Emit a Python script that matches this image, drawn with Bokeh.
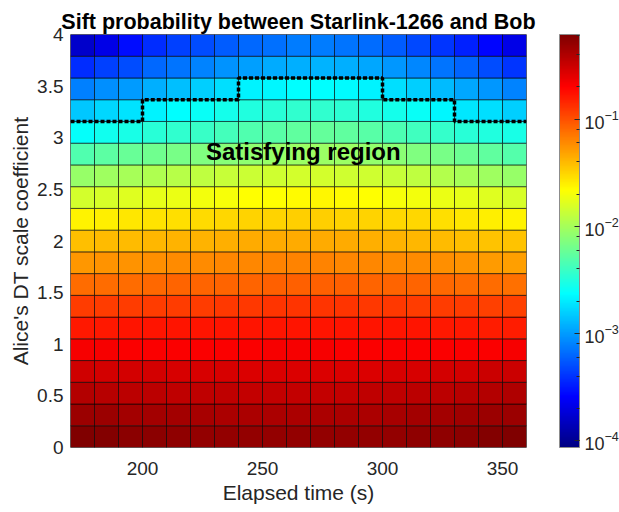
import numpy as np
from bokeh.plotting import figure
from bokeh.models import (ColumnDataSource, LogColorMapper, ColorBar, LogTicker,
                          LogTickFormatter, Label, NumeralTickFormatter, FixedTicker)
from bokeh.embed import file_html
from bokeh.resources import INLINE

# ---------------- data ----------------
# grid edges (pcolor vertices)
elapsed_edges = [170, 180, 190, 200, 210, 220, 230, 240, 250, 260,
                 270, 280, 290, 300, 310, 320, 330, 340, 350, 360]
coef_edges = list(np.linspace(0.0, 4.0, 20))

# log10 of sift probability, one list per row of cells, bottom row first
log10_sift_prob = [
    [-0.22, -0.24, -0.26, -0.27, -0.28, -0.29, -0.30, -0.30, -0.30, -0.30, -0.30, -0.30, -0.30, -0.29, -0.28, -0.28, -0.26, -0.24, -0.21],
    [-0.32, -0.33, -0.35, -0.36, -0.36, -0.37, -0.38, -0.38, -0.38, -0.38, -0.38, -0.38, -0.38, -0.37, -0.36, -0.35, -0.34, -0.33, -0.32],
    [-0.42, -0.43, -0.44, -0.45, -0.46, -0.46, -0.46, -0.47, -0.47, -0.47, -0.47, -0.47, -0.46, -0.46, -0.45, -0.44, -0.43, -0.41, -0.40],
    [-0.52, -0.53, -0.53, -0.54, -0.55, -0.55, -0.55, -0.56, -0.56, -0.56, -0.56, -0.56, -0.56, -0.55, -0.55, -0.54, -0.53, -0.51, -0.50],
    [-0.67, -0.67, -0.68, -0.68, -0.68, -0.68, -0.68, -0.68, -0.67, -0.67, -0.67, -0.68, -0.68, -0.68, -0.68, -0.69, -0.68, -0.68, -0.67],
    [-0.79, -0.79, -0.78, -0.78, -0.78, -0.78, -0.78, -0.78, -0.78, -0.78, -0.78, -0.78, -0.78, -0.78, -0.78, -0.79, -0.79, -0.80, -0.81],
    [-0.93, -0.93, -0.93, -0.92, -0.92, -0.92, -0.91, -0.91, -0.90, -0.90, -0.90, -0.90, -0.91, -0.91, -0.92, -0.92, -0.93, -0.94, -0.94],
    [-1.11, -1.10, -1.10, -1.09, -1.08, -1.07, -1.07, -1.07, -1.06, -1.06, -1.06, -1.06, -1.07, -1.07, -1.08, -1.09, -1.10, -1.11, -1.12],
    [-1.27, -1.26, -1.25, -1.24, -1.23, -1.22, -1.21, -1.21, -1.20, -1.20, -1.20, -1.21, -1.21, -1.22, -1.23, -1.24, -1.26, -1.28, -1.30],
    [-1.42, -1.41, -1.40, -1.39, -1.38, -1.37, -1.36, -1.35, -1.35, -1.35, -1.35, -1.35, -1.36, -1.37, -1.39, -1.40, -1.42, -1.43, -1.44],
    [-1.62, -1.60, -1.58, -1.56, -1.54, -1.53, -1.51, -1.50, -1.49, -1.48, -1.48, -1.49, -1.49, -1.51, -1.52, -1.54, -1.57, -1.60, -1.62],
    [-1.83, -1.81, -1.78, -1.76, -1.74, -1.71, -1.69, -1.67, -1.66, -1.65, -1.64, -1.65, -1.67, -1.69, -1.71, -1.74, -1.76, -1.79, -1.81],
    [-2.06, -2.03, -2.00, -1.96, -1.93, -1.91, -1.88, -1.86, -1.84, -1.83, -1.83, -1.84, -1.85, -1.88, -1.91, -1.95, -1.99, -2.03, -2.06],
    [-2.32, -2.28, -2.24, -2.21, -2.17, -2.14, -2.11, -2.08, -2.06, -2.04, -2.04, -2.04, -2.07, -2.10, -2.14, -2.18, -2.22, -2.27, -2.31],
    [-2.61, -2.57, -2.53, -2.48, -2.45, -2.41, -2.37, -2.33, -2.29, -2.26, -2.25, -2.27, -2.30, -2.34, -2.39, -2.43, -2.47, -2.51, -2.54],
    [-2.83, -2.78, -2.73, -2.67, -2.63, -2.59, -2.55, -2.51, -2.48, -2.45, -2.45, -2.46, -2.50, -2.55, -2.60, -2.65, -2.71, -2.75, -2.81],
    [-3.11, -3.05, -3.00, -2.92, -2.87, -2.81, -2.75, -2.67, -2.65, -2.63, -2.62, -2.64, -2.67, -2.75, -2.81, -2.88, -2.96, -3.02, -3.09],
    [-3.43, -3.35, -3.30, -3.20, -3.15, -3.09, -3.03, -2.98, -2.94, -2.92, -2.91, -2.92, -2.96, -3.02, -3.07, -3.15, -3.22, -3.30, -3.39],
    [-3.79, -3.68, -3.54, -3.43, -3.35, -3.30, -3.24, -3.20, -3.17, -3.13, -3.13, -3.15, -3.19, -3.24, -3.32, -3.39, -3.47, -3.58, -3.68],
]

# colour limits of the colour bar (log10)
clim_log10 = [-4.063, -0.211]

# boundary of the satisfying region: step edges (s) and row-edge index of each step
boundary_time_edges = [170, 200, 240, 300, 330, 360]
boundary_row_index = [15, 16, 17, 16, 15]

x_ticks = [200, 250, 300, 350]
y_ticks = [0, 0.5, 1, 1.5, 2, 2.5, 3, 3.5, 4]

# ---------------- jet colormap ----------------
def jet(m=256):
    n = int(np.ceil(m / 4))
    u = np.concatenate([np.arange(1, n + 1) / n, np.ones(n - 1), np.arange(n, 0, -1) / n])
    g = int(np.ceil(n / 2)) - (1 if m % 4 == 1 else 0) + np.arange(1, len(u) + 1)
    r = g + n
    b = g - n
    J = np.zeros((m, 3))
    for idx, col in ((r, 0), (g, 1), (b, 2)):
        mask = (idx >= 1) & (idx <= m)
        J[idx[mask] - 1, col] = u[mask]
    return ["#%02x%02x%02x" % tuple(int(round(c * 255)) for c in row) for row in J]

palette = jet(256)
mapper = LogColorMapper(palette=palette, low=10 ** clim_log10[0], high=10 ** clim_log10[1])

left, right, bottom, top, prob = [], [], [], [], []
for i, row in enumerate(log10_sift_prob):
    for j, lv in enumerate(row):
        left.append(elapsed_edges[j]); right.append(elapsed_edges[j + 1])
        bottom.append(coef_edges[i]); top.append(coef_edges[i + 1])
        prob.append(10 ** lv)
src = ColumnDataSource(dict(left=left, right=right, bottom=bottom, top=top, prob=prob))

FONT = "Liberation Sans"
TXT = "#262626"
FRAME_W, FRAME_H = 456, 413

p = figure(frame_width=FRAME_W, frame_height=FRAME_H, x_range=(170, 360), y_range=(0, 4),
           output_backend="svg", toolbar_location=None,
           min_border_left=70, min_border_right=93, min_border_top=34, min_border_bottom=65)
p.quad(left="left", right="right", bottom="bottom", top="top", source=src,
       fill_color={"field": "prob", "transform": mapper},
       line_color="black", line_width=0.7, line_alpha=0.85)

# satisfying-region boundary as a step line
bx, by = [], []
for k, idx in enumerate(boundary_row_index):
    bx += [boundary_time_edges[k], boundary_time_edges[k + 1]]
    by += [coef_edges[idx], coef_edges[idx]]
p.line(bx, by, line_color="black", line_width=3.5, line_dash="4 2")

p.add_layout(Label(x=267, y=2.87, text="Satisfying region", text_font=FONT,
                   text_font_size="24px", text_font_style="bold", text_align="center",
                   text_baseline="alphabetic", text_color="black"))

p.title.text = "Sift probability between Starlink-1266 and Bob"
p.title.align = "center"
p.title.text_font = FONT
p.title.text_font_size = "21.5px"
p.title.text_font_style = "bold"
p.title.text_color = "black"
p.title.standoff = 2

p.xgrid.visible = False
p.ygrid.visible = False
p.outline_line_color = "#9a9a9a"
p.outline_line_width = 1

for ax in (p.xaxis[0], p.yaxis[0]):
    ax.major_tick_line_color = None
    ax.minor_tick_line_color = None
    ax.major_tick_out = 0
    ax.minor_tick_out = 0
    ax.major_tick_in = 0
    ax.minor_tick_in = 0
    ax.axis_line_color = None
    ax.major_label_text_font = FONT
    ax.major_label_text_font_size = "19px"
    ax.major_label_text_color = TXT
    ax.axis_label_text_font = FONT
    ax.axis_label_text_font_size = "21px"
    ax.axis_label_text_font_style = "normal"
    ax.axis_label_text_color = TXT

p.xaxis.ticker = FixedTicker(ticks=x_ticks)
p.yaxis.ticker = FixedTicker(ticks=y_ticks)
p.yaxis.formatter = NumeralTickFormatter(format="0.[0]")
p.xaxis.axis_label = "Elapsed time (s)"
p.yaxis.axis_label = "Alice's DT scale coefficient"
p.xaxis.major_label_standoff = 14
p.yaxis.major_label_standoff = 7
p.xaxis.axis_label_standoff = 3
p.yaxis.axis_label_standoff = 2

cb = ColorBar(color_mapper=mapper, ticker=LogTicker(), formatter=LogTickFormatter(),
              width=20, height=FRAME_H, location=(FRAME_W + 33, 0), margin=0, padding=0,
              label_standoff=5,
              major_label_text_font=FONT, major_label_text_font_size="18px",
              major_label_text_color=TXT,
              major_tick_line_color=TXT, major_tick_in=5, major_tick_out=0,
              minor_tick_line_color=TXT, minor_tick_in=3, minor_tick_out=0,
              bar_line_color="#8c8c8c", bar_line_width=1,
              background_fill_color=None, border_line_color=None)
p.add_layout(cb, "center")

open("out.html", "w").write(file_html(p, INLINE))
